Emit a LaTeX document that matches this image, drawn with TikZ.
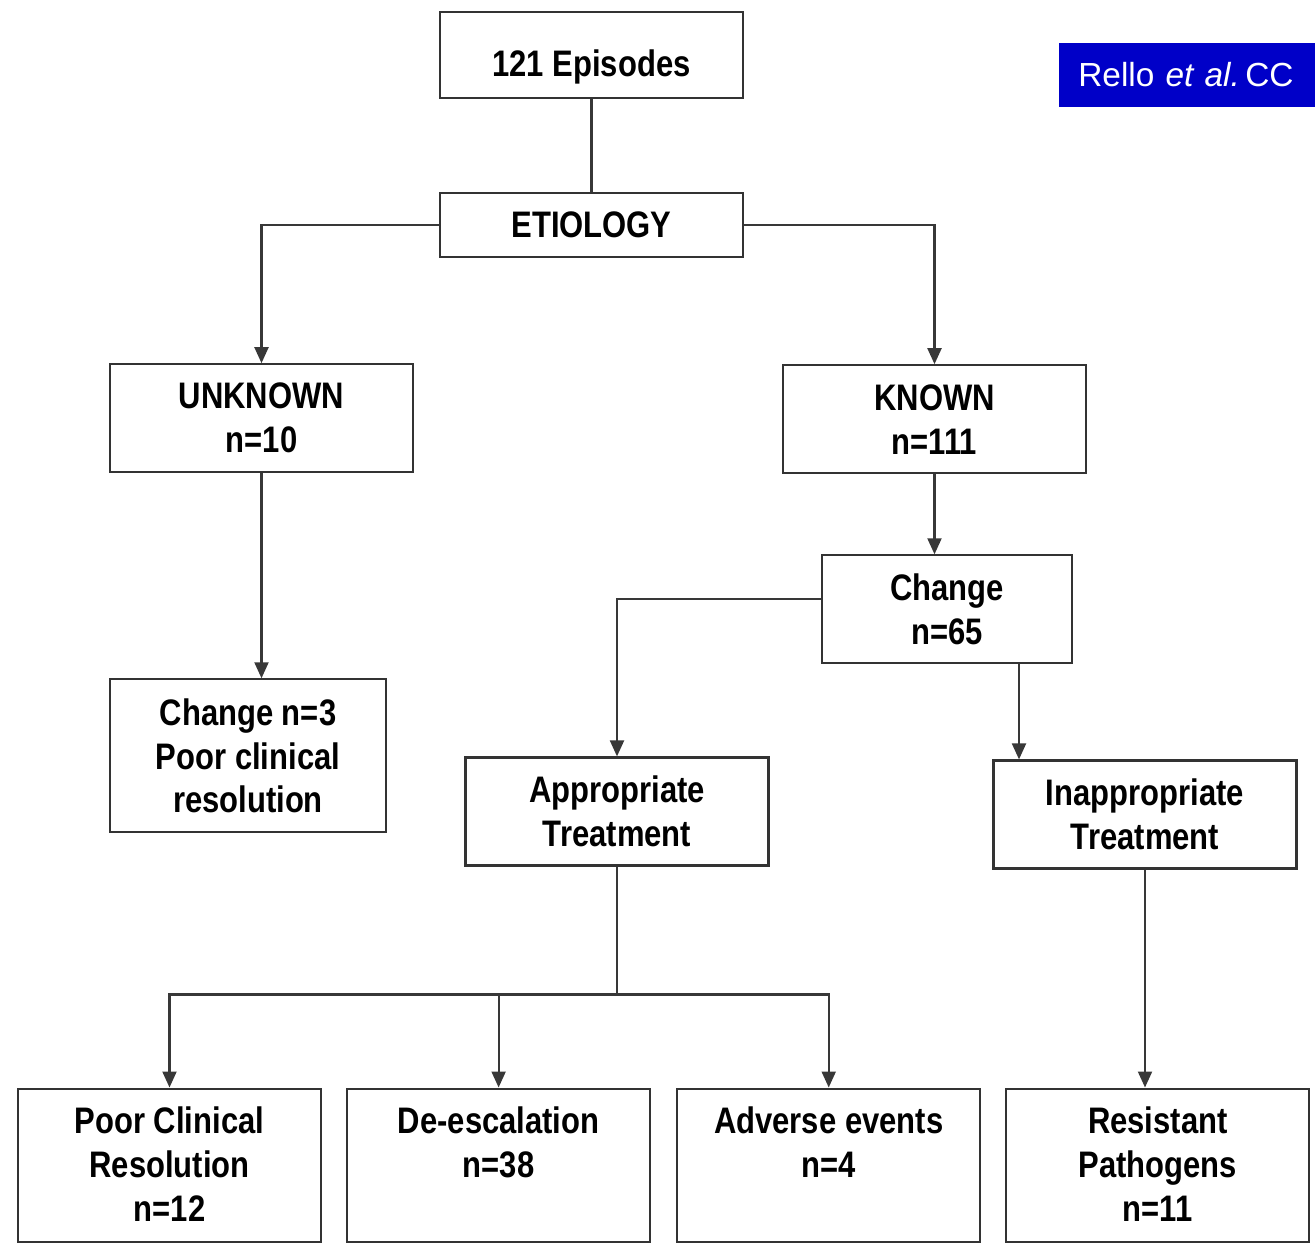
\documentclass[tikz,border=0pt]{standalone}
\usepackage{fontspec}
\usepackage{tikz}
\usetikzlibrary{
  arrows.meta,
  positioning,
  calc
}
\newfontfamily\boxfamily[FakeStretch=0.84]{Liberation Sans}
\newfontfamily\citefamily{Liberation Sans}
\newcommand{\boxfont}{\boxfamily\bfseries\fontsize{21}{25}\selectfont}
\newcommand{\citefont}{\citefamily\fontsize{19}{23}\selectfont}
\newcommand{\toptext}[1]{\parbox[t][2.34cm][t]{5.8cm}{\centering #1}}
\definecolor{boxline}{HTML}{333333}
\definecolor{flowline}{HTML}{383838}
\definecolor{citeblue}{HTML}{0000C8}

\begin{document}
\begin{tikzpicture}[
  box/.style={
    draw=boxline, line width=1.2pt, fill=white,
    minimum width=6.06cm, minimum height=2.16cm,
    inner sep=0pt, align=center, font=\boxfont
  },
  tallbox/.style={box, minimum height=3.06cm},
  link/.style={draw=flowline, line width=1.2pt},
  flow/.style={link, -{Triangle[length=3.2mm, width=2.8mm]}},
  citebox/.style={
    fill=citeblue, text=white, font=\citefont,
    minimum width=5.12cm, minimum height=1.28cm,
    inner xsep=0.38cm, align=left
  }
]
\useasboundingbox (0,0) rectangle (26.3,-24.94);

% ---- Top ----
\node[box, minimum height=1.72cm, text height=0.95cm, text depth=0.11cm] (ep) at (11.83,-1.1) {121 Episodes};
\node[box, minimum height=1.28cm, below=1.86cm of ep] (et) {ETIOLOGY};

\draw[link] (ep) -- (et);

% Citation tag
\node[citebox, anchor=west, text width=4.36cm] (cite) at (21.18,-1.5) {\mbox{Rello \textit{et al.}\,CC}};

% ---- Etiology split ----
\node[box, below=2.1cm of et, xshift=-6.6cm] (unk) {UNKNOWN\\n=10};
\node[box, below=2.12cm of et, xshift=6.86cm] (kn) {KNOWN\\n=111};

\draw[flow] (et) -| (unk);
\draw[flow] (et) -| (kn);

% Unknown branch
\node[tallbox, minimum width=5.52cm, below=4.1cm of unk, xshift=-0.27cm] (ch3)
  {Change n=3\\Poor clinical\\resolution};
\draw[flow] (unk.south) -- (unk.south |- ch3.north);

% Known branch
\node[box, minimum width=5.0cm, below=1.6cm of kn, xshift=0.25cm] (ch65) {Change\\n=65};
\draw[flow] (kn.south) -- (kn.south |- ch65.north);

\node[box, below=1.84cm of ch65, xshift=-6.6cm] (app) {Appropriate\\Treatment};
\node[box, below=1.9cm of ch65, xshift=3.96cm] (inapp) {Inappropriate\\Treatment};

\draw[flow] ([yshift=0.2cm]ch65.west) -| (app);
\coordinate (ch65out) at ([xshift=1.44cm]ch65.south);
\draw[flow] (ch65out) -- (ch65out |- inapp.north);

% ---- Outcomes ----
\node[tallbox, below=4.42cm of app, xshift=-8.95cm] (pcr)
  {\toptext{Poor Clinical\\Resolution\\n=12}};
\node[tallbox, right=0.48cm of pcr] (deesc) {\toptext{De-escalation\\n=38}};
\node[tallbox, right=0.5cm of deesc] (adv) {\toptext{Adverse events\\n=4}};
\node[tallbox, right=0.48cm of adv] (res) {\toptext{Resistant\\Pathogens\\n=11}};

\coordinate (split) at ([yshift=-2.56cm]app.south);
\draw[link] (app.south) -- (split);
\draw[flow] (split) -| (pcr);
\draw[flow] (split) -| (deesc);
\draw[flow] (split) -| (adv);

\draw[flow] (inapp.south) -- (inapp.south |- res.north);

\end{tikzpicture}
\end{document}
